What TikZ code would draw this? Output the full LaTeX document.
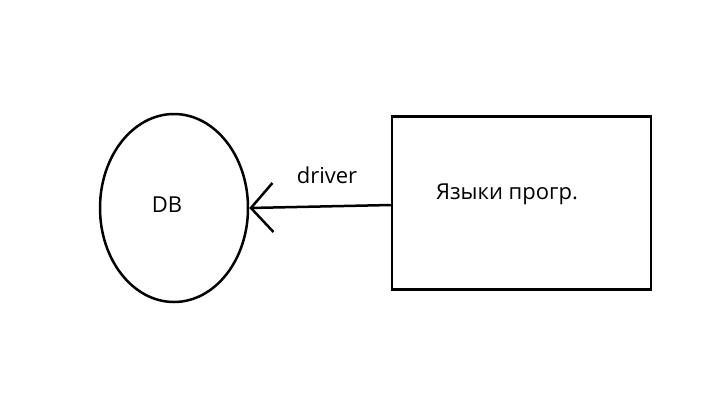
\documentclass[tikz,border=0pt]{standalone}
\usepackage{fontspec}
\setmainfont{Open Sans}
\usetikzlibrary{arrows.meta,shapes.geometric}
\tikzset{
  shapeline/.style={draw=black, line width=2.5pt},
  lbl/.style={font=\fontsize{22}{26}\selectfont, inner sep=0pt},
}
\begin{document}
\begin{tikzpicture}[x=1pt,y=-1pt]
\useasboundingbox[fill=white] (0,0) rectangle (711,400);
\node[shapeline, ellipse, minimum width=148pt, minimum height=188pt, inner sep=0pt] (db) at (174,208) {};
\node[lbl] (dbl) at (167,205) {DB};
\node[shapeline, rectangle, minimum width=259pt, minimum height=173pt, inner sep=0pt] (box) at (521.5,203) {};
\node[lbl] (boxl) at (507,194) {Языки прогр.};
\draw[line width=2.5pt, -{Straight Barb[length=22pt, width=49pt, line width=2.5pt]}] ([yshift=-2pt]box.west) -- (db.east);
\node[lbl] (drv) at (327,175) {driver};
\end{tikzpicture}
\end{document}
